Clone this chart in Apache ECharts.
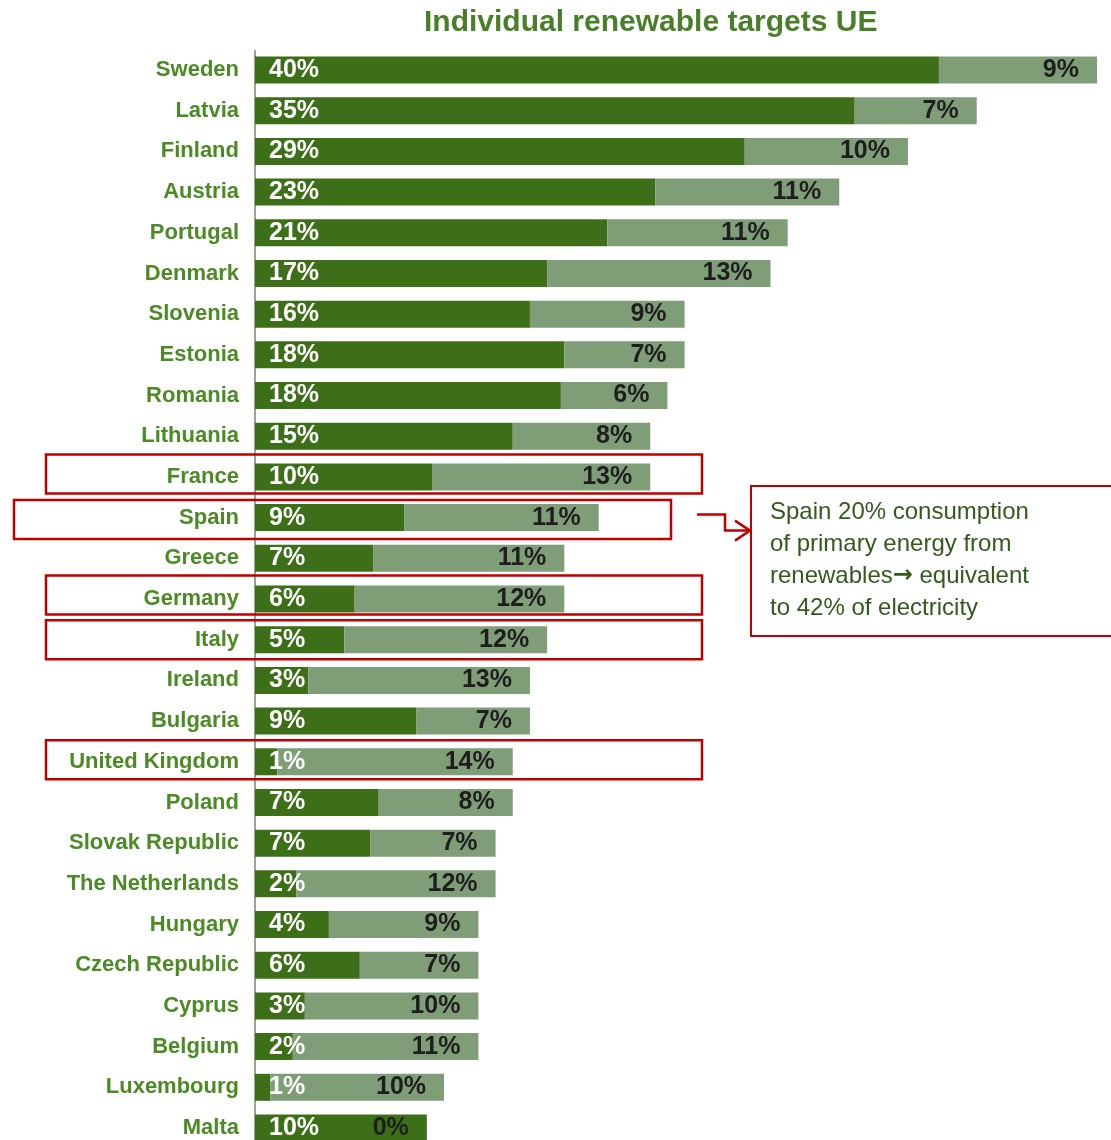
<!DOCTYPE html>
<html><head><meta charset="utf-8">
<script src="https://cdn.jsdelivr.net/npm/echarts@6/dist/echarts.min.js"></script>
<style>html,body{margin:0;padding:0;background:#fff}#c{width:1111px;height:1140px}</style>
</head><body><div id="c"></div>
<script>
var countries = ['Sweden','Latvia','Finland','Austria','Portugal','Denmark','Slovenia','Estonia','Romania','Lithuania','France','Spain','Greece','Germany','Italy','Ireland','Bulgaria','United Kingdom','Poland','Slovak Republic','The Netherlands','Hungary','Czech Republic','Cyprus','Belgium','Luxembourg','Malta'];
var current = [39.8,34.9,28.5,23.3,20.5,17.0,16.0,18.0,17.8,15.0,10.3,8.7,6.9,5.8,5.2,3.1,9.4,1.3,7.2,6.7,2.4,4.3,6.1,2.9,2.2,0.9,10.0];
var increase = [9.2,7.1,9.5,10.7,10.5,13.0,9.0,7.0,6.2,8.0,12.7,11.3,11.1,12.2,11.8,12.9,6.6,13.7,7.8,7.3,11.6,8.7,6.9,10.1,10.8,10.1,0];
var highlighted = ['France','Spain','Germany','Italy','United Kingdom'];
var titleText = 'Individual renewable targets UE';
var noteLines = ['Spain 20% consumption','of primary energy from','renewables{arr|\u2192} equivalent','to 42% of electricity'];

var SANS = '"Liberation Sans",Arial,sans-serif';
var chart = echarts.init(document.getElementById('c'), null, {renderer:'canvas'});
function pct(p){ return Math.round(p.value) + '%'; }
chart.setOption({
  animation:false,
  backgroundColor:'#ffffff',
  title:{text:titleText,left:419,top:3,textStyle:{fontFamily:SANS,fontSize:30,fontWeight:'bold',color:'#4a7f2a'}},
  grid:{left:255,right:14,top:70,height:1058,containLabel:false},
  xAxis:{type:'value',min:0,max:49,show:false},
  yAxis:{type:'category',data:countries,inverse:true,boundaryGap:false,
    axisLine:{show:false},
    axisTick:{show:false},
    splitLine:{show:false},
    axisLabel:{margin:16,fontFamily:SANS,fontSize:22,fontWeight:'bold',color:'#4b8a24'}},
  series:[
    {type:'bar',stack:'t',data:current,barWidth:27,itemStyle:{color:'#3d6e18'},
      label:{show:true,position:'insideLeft',distance:14,formatter:pct,fontFamily:SANS,fontSize:25,fontWeight:'bold',color:'#ffffff'}},
    {type:'bar',stack:'t',data:increase,barWidth:27,itemStyle:{color:'#7f9e78'},
      label:{show:true,position:'insideRight',distance:18,formatter:pct,fontFamily:SANS,fontSize:25,fontWeight:'bold',color:'#1e1e1e'}}
  ]
});

var boxSpec = {
  'France':{x1:46,x2:702,dy:-3},
  'Spain':{x1:14,x2:671,dy:2},
  'Germany':{x1:46,x2:702,dy:-4},
  'Italy':{x1:46,x2:702,dy:0},
  'United Kingdom':{x1:46,x2:702,dy:-2}
};
var g = [];
var x0 = chart.convertToPixel({xAxisIndex:0}, 0);
g.push({type:'line',shape:{x1:x0,y1:50,x2:x0,y2:1140},style:{stroke:'#93a88e',lineWidth:2},z:1});
highlighted.forEach(function(name){
  var y = chart.convertToPixel({yAxisIndex:0}, name);
  var s = boxSpec[name];
  g.push({type:'rect',shape:{x:s.x1,y:y+s.dy-19.5,width:s.x2-s.x1,height:39},
    style:{fill:'none',stroke:'#c00000',lineWidth:2.5},z:100});
});
var spainY = chart.convertToPixel({yAxisIndex:0}, 'Spain');
g.push({type:'polyline',shape:{points:[[697,spainY-3],[725,spainY-3],[725,spainY+13],[749,spainY+13]]},style:{stroke:'#c00000',lineWidth:2.5,fill:'none'},z:100});
g.push({type:'polyline',shape:{points:[[735,spainY+3],[750,spainY+13],[735,spainY+23]]},style:{stroke:'#c00000',lineWidth:2.5,fill:'none'},z:100});
g.push({type:'rect',shape:{x:751,y:486,width:380,height:150},style:{fill:'none',stroke:'#c00000',lineWidth:2},z:100});
noteLines.forEach(function(t,i){
  g.push({type:'text',x:770,y:512+i*32,style:{text:t,fontFamily:SANS,fontSize:24,fill:'#34591c',textVerticalAlign:'middle',textAlign:'left',
    rich:{arr:{fontFamily:'"DejaVu Sans",sans-serif',fontSize:24,fontWeight:'bold',fill:'#34591c'}}},z:101});
});
chart.setOption({graphic:g});
</script></body></html>
